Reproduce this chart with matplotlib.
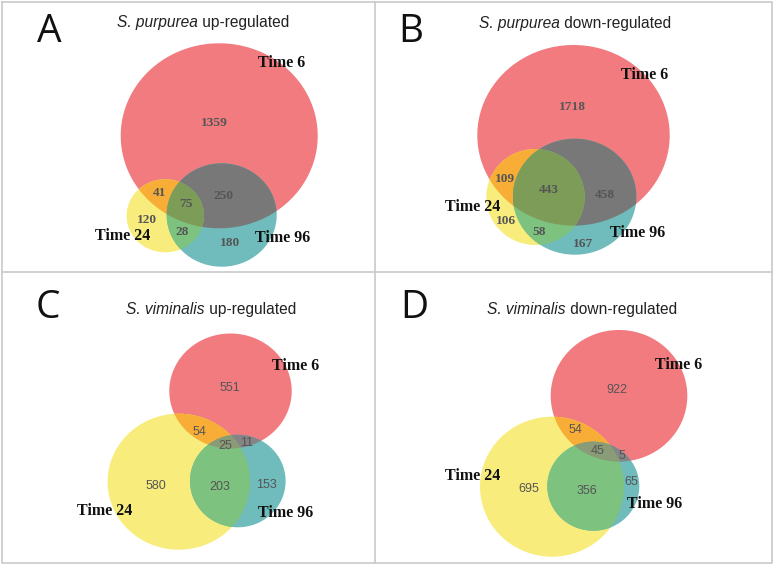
import numpy as np
import matplotlib
matplotlib.use("Agg")
import matplotlib.pyplot as plt
from matplotlib.patches import Polygon

# ---------------- data ----------------
panel_letters = ["A", "B", "C", "D"]
species = ["S. purpurea", "S. purpurea", "S. viminalis", "S. viminalis"]
direction = ["up-regulated", "down-regulated", "up-regulated", "down-regulated"]
set_labels = ["Time 6", "Time 24", "Time 96"]
# region order: only6, 6&24, 6&24&96, 6&96, only24, 24&96, only96
region_names = ["6", "6_24", "6_24_96", "6_96", "24", "24_96", "96"]
counts_A = [1359, 41, 75, 250, 120, 28, 180]
counts_B = [1718, 109, 443, 458, 106, 58, 167]
counts_C = [551, 54, 25, 11, 580, 203, 153]
counts_D = [922, 54, 45, 5, 695, 356, 65]
all_counts = [counts_A, counts_B, counts_C, counts_D]

# ---------------- layout (pixels) ----------------
W, H = 777, 567
# circle geometry per panel: (cx, cy, rx, ry) for Time6, Time24, Time96
circles = [
    [(219.2, 135.8, 98.5, 92.5), (165.3, 215.8, 38.7, 36.5), (221.7, 215.0, 55.0, 51.7)],
    [(573.5, 135.3, 96.2, 90.3), (535.5, 197.0, 49.2, 48.0), (574.7, 196.7, 61.7, 58.0)],
    [(230.5, 391.0, 61.2, 57.5), (178.8, 481.7, 71.2, 68.0), (237.8, 481.0, 47.8, 46.3)],
    [(619.0, 395.8, 68.3, 65.8), (552.0, 486.7, 72.0, 70.0), (593.3, 486.2, 46.0, 44.5)],
]
letter_pos = [(49, 32), (411, 32), (48, 308), (414, 308)]
title_pos = [(203, 23), (574.7, 23.3), (211, 309.7), (582.3, 309.7)]
label_pos = [
    [(281.7, 63.3), (123, 236), (282.7, 237.7)],
    [(644.7, 75), (473, 206.7), (637.3, 232.7)],
    [(295.7, 366.3), (105, 510.7), (286, 513)],
    [(679, 364.7), (472.3, 475.7), (654.7, 503.7)],
]
count_pos = [
    [(214, 123.3), (160, 192.7), (185.7, 204), (224, 195.7), (146.7, 220), (182.3, 232.3), (230, 242.7)],
    [(572.3, 106.7), (505.3, 179.3), (549, 190), (605.3, 195), (506.3, 220.7), (538.7, 232.3), (583, 244)],
    [(230, 388), (199, 432.3), (225.3, 446.3), (246.7, 443), (155.7, 485.7), (219.3, 487), (266.7, 484.7)],
    [(617.3, 390.3), (575.7, 429.7), (598, 450.7), (622.3, 455.7), (528.7, 489), (587.3, 490.7), (631.3, 482)],
]

c_red = "#f17b7f"
c_yel = "#f8ed7c"
c_teal = "#70bbbc"
c_orange = "#f7ad36"
c_grey_AB = "#787878"
c_grey_CD = "#858585"
c_green = "#7dc27e"
c_triple_AB = "#7c9c58"
c_triple_CD = "#8a9b78"


def ellipse_poly(cx, cy, rx, ry, n=480):
    t = np.linspace(0, 2 * np.pi, n, endpoint=False)
    return np.column_stack([cx + rx * np.cos(t), cy + ry * np.sin(t)])


def clip_convex(subject, clipper):
    """Sutherland-Hodgman clipping of polygon `subject` by convex polygon `clipper`."""
    area = 0.5 * np.sum(clipper[:, 0] * np.roll(clipper[:, 1], -1) - np.roll(clipper[:, 0], -1) * clipper[:, 1])
    sign = 1.0 if area > 0 else -1.0
    out = [tuple(p) for p in subject]
    m = len(clipper)
    for i in range(m):
        a = clipper[i]
        b = clipper[(i + 1) % m]
        inp = out
        out = []
        if not inp:
            break

        def inside(p):
            return sign * ((b[0] - a[0]) * (p[1] - a[1]) - (b[1] - a[1]) * (p[0] - a[0])) >= 0

        def inter(p, q):
            dx1, dy1 = q[0] - p[0], q[1] - p[1]
            dx2, dy2 = b[0] - a[0], b[1] - a[1]
            den = dx1 * dy2 - dy1 * dx2
            if den == 0:
                return q
            t = ((a[0] - p[0]) * dy2 - (a[1] - p[1]) * dx2) / den
            return (p[0] + t * dx1, p[1] + t * dy1)

        s = inp[-1]
        for e in inp:
            if inside(e):
                if not inside(s):
                    out.append(inter(s, e))
                out.append(e)
            elif inside(s):
                out.append(inter(s, e))
            s = e
    return np.array(out) if out else None


fig = plt.figure(figsize=(W / 100, H / 100), dpi=100)
ax = fig.add_axes([0, 0, 1, 1])
ax.set_xlim(0, W)
ax.set_ylim(H, 0)
ax.axis("off")

# frame and dividers
fc = "#c9c9c9"
lw = 1.2
ax.plot([2, 772, 772, 2, 2], [2, 2, 563, 563, 2], color=fc, lw=lw)
ax.plot([375, 375], [2, 563], color=fc, lw=lw)
ax.plot([2, 772], [272, 272], color=fc, lw=lw)


def add_poly(p, color, z):
    if p is not None and len(p) > 2:
        ax.add_patch(Polygon(p, closed=True, facecolor=color, edgecolor="none", zorder=z))


renderer = fig.canvas.get_renderer()

for k in range(4):
    P6, P24, P96 = [ellipse_poly(*c) for c in circles[k]]
    add_poly(P6, c_red, 1)
    add_poly(P24, c_yel, 1)
    add_poly(P96, c_teal, 1)
    add_poly(clip_convex(P24, P6), c_orange, 2)
    add_poly(clip_convex(P96, P6), c_grey_AB if k < 2 else c_grey_CD, 2)
    add_poly(clip_convex(P96, P24), c_green, 2)
    tri = clip_convex(P96, P6)
    if tri is not None:
        tri = clip_convex(tri, P24)
    add_poly(tri, c_triple_AB if k < 2 else c_triple_CD, 3)

    # panel letter
    lx, ly = letter_pos[k]
    ax.text(lx, ly, panel_letters[k], fontsize=28, family="Open Sans", color="#111111",
            ha="center", va="center", zorder=5)

    # title: italic species + normal direction, centered as a whole
    tx, ty = title_pos[k]
    t1 = ax.text(0, ty, species[k], fontsize=11.2, family="Liberation Sans", style="italic",
                 color="#222222", ha="left", va="center", zorder=5)
    t2 = ax.text(0, ty, " " + direction[k], fontsize=11.2, family="Liberation Sans",
                 color="#222222", ha="left", va="center", zorder=5)
    w1 = t1.get_window_extent(renderer).width
    w2 = t2.get_window_extent(renderer).width
    start = tx - (w1 + w2) / 2
    t1.set_x(start)
    t2.set_x(start + w1)

    # set labels
    for j in range(3):
        x, y = label_pos[k][j]
        ax.text(x, y, set_labels[j], fontsize=11.5, family="Liberation Serif", weight="bold",
                color="#111111", ha="center", va="center", zorder=5)

    # region counts
    for j, v in enumerate(all_counts[k]):
        x, y = count_pos[k][j]
        if k < 2:
            ax.text(x, y, str(v), fontsize=9.6, family="Liberation Serif", weight="bold",
                    color="#555555", ha="center", va="center", zorder=5)
        else:
            ax.text(x, y, str(v), fontsize=9.0, family="Liberation Sans",
                    color="#555555", ha="center", va="center", zorder=5)

fig.savefig("out.png", dpi=100, facecolor="white")
